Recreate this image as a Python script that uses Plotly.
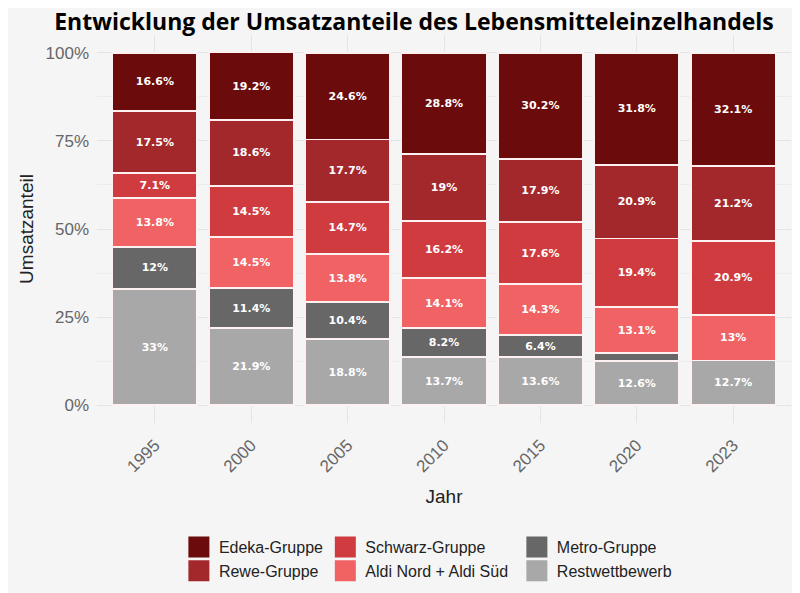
import plotly.graph_objects as go

# Umsatzanteile in Prozent
jahre = ["1995", "2000", "2005", "2010", "2015", "2020", "2023"]
edeka = [16.6, 19.2, 24.6, 28.8, 30.2, 31.8, 32.1]
rewe = [17.5, 18.6, 17.7, 19.0, 17.9, 20.9, 21.2]
schwarz = [7.1, 14.5, 14.7, 16.2, 17.6, 19.4, 20.9]
aldi = [13.8, 14.5, 13.8, 14.1, 14.3, 13.1, 13.0]
metro = [12.0, 11.4, 10.4, 8.2, 6.4, 2.2, 0.0]
rest = [33.0, 21.9, 18.8, 13.7, 13.6, 12.6, 12.7]

# unten nach oben gestapelt: (name, werte, farbe, legende)
serien = [
    ("Restwettbewerb", rest, "#a8a8a8", "legend3"),
    ("Metro-Gruppe", metro, "#676767", "legend3"),
    ("Aldi Nord + Aldi Süd", aldi, "#f06263", "legend2"),
    ("Schwarz-Gruppe", schwarz, "#d03b3f", "legend2"),
    ("Rewe-Gruppe", rewe, "#a3282c", "legend"),
    ("Edeka-Gruppe", edeka, "#6c0b0b", "legend"),
]

bg = "#f5f5f5"
grid = "#e4e4e4"

fig = go.Figure()
for name, werte, farbe, leg in serien:
    labels = [f"{v:g}%" if v >= 3 else "" for v in werte]
    fig.add_trace(go.Bar(
        x=jahre, y=[v / 100 for v in werte], name=name,
        marker=dict(color=farbe, line=dict(color="#fdf1f1", width=1.8)),
        text=labels, textposition="inside", insidetextanchor="middle",
        textangle=0, constraintext="none",
        textfont=dict(family="DejaVu Sans", size=11, color="white", weight="bold"),
        showlegend=False, hoverinfo="skip",
    ))
    # Legendeneintrag mit groesserem Farbfeld
    fig.add_trace(go.Scatter(
        x=[None], y=[None], mode="markers", name=name,
        marker=dict(symbol="square", size=16, color=farbe, line=dict(color=farbe, width=5)),
        legend=leg, legendgroup=name, showlegend=True,
    ))

leg_font = dict(family="Liberation Sans", size=16, color="#222222")
leg_common = dict(orientation="v", yref="container", yanchor="top", y=0.1197,
                  xanchor="left", bgcolor="rgba(0,0,0,0)", font=leg_font,
                  traceorder="reversed", tracegroupgap=6, itemsizing="trace")

fig.update_layout(
    width=800, height=593,
    barmode="stack", bargap=0.12,
    paper_bgcolor=bg, plot_bgcolor=bg,
    margin=dict(l=89, r=17, t=27, b=178, autoexpand=False),
    title=dict(text="<b>Entwicklung der Umsatzanteile des Lebensmitteleinzelhandels</b>",
               x=0.5075, xanchor="center", y=0.976, yanchor="middle",
               font=dict(family="Open Sans", size=23, color="black")),
    xaxis=dict(title=dict(text="Jahr", font=dict(family="Liberation Sans", size=19, color="#222222"),
                          standoff=14),
               type="category", range=[-0.6, 6.6], showgrid=True, gridcolor=grid, gridwidth=1.2,
               tickangle=-45, ticks="", zeroline=False, automargin=False, ticklabelstandoff=8,
               tickfont=dict(family="Liberation Sans", size=17, color="#666666")),
    yaxis=dict(title=dict(text="Umsatzanteil", font=dict(family="Liberation Sans", size=19, color="#222222"),
                          standoff=6),
               range=[-0.05, 1.05], tickvals=[0, 0.25, 0.5, 0.75, 1.0], tickformat=".0%",
               showgrid=True, gridcolor=grid, gridwidth=1.2, zeroline=False, ticks="",
               automargin=False, ticklabelstandoff=7,
               minor=dict(tickvals=[0.125, 0.375, 0.625, 0.875], showgrid=True,
                          gridcolor="#ececec", gridwidth=0.6),
               tickfont=dict(family="Liberation Sans", size=17, color="#666666")),
    legend=dict(x=0.118, **leg_common),
    legend2=dict(x=0.329, **leg_common),
    legend3=dict(x=0.605, **leg_common),
)

fig.write_html("out.html")
